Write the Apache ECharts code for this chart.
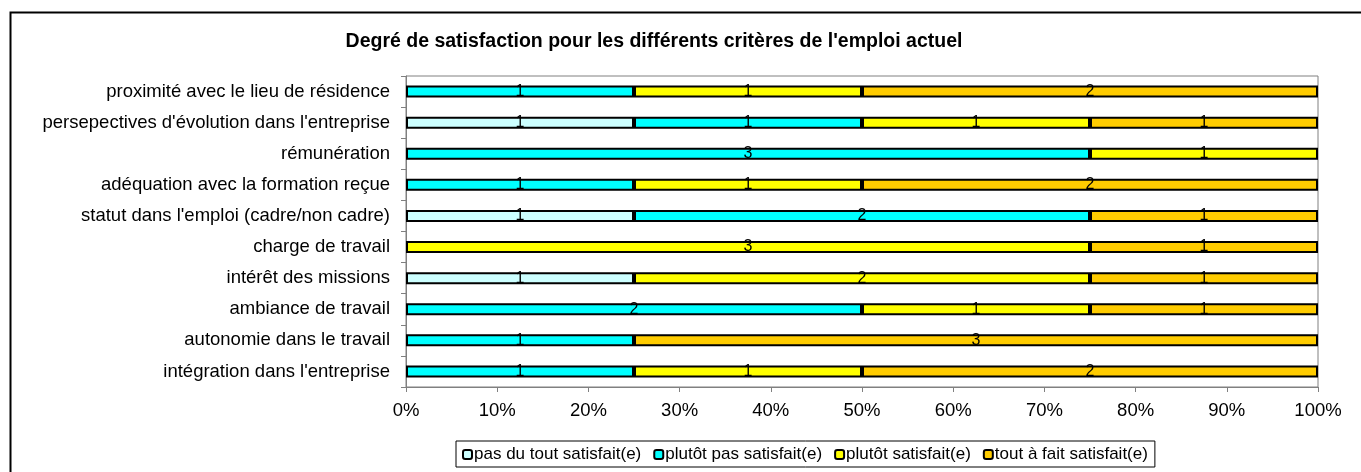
<!DOCTYPE html>
<html>
<head>
<meta charset="utf-8">
<script src="https://cdn.jsdelivr.net/npm/echarts@6/dist/echarts.min.js"></script>
<style>
  html, body { margin: 0; padding: 0; background: #fff; }
  #chart { width: 1361px; height: 472px; }
</style>
</head>
<body>
<div id="chart"></div>
<script>
// Criteria, listed bottom to top as on the category axis
const categories = [
  "intégration dans l'entreprise",
  "autonomie dans le travail",
  "ambiance de travail",
  "intérêt des missions",
  "charge de travail",
  "statut dans l'emploi (cadre/non cadre)",
  "adéquation avec la formation reçue",
  "rémunération",
  "persepectives d'évolution dans l'entreprise",
  "proximité avec le lieu de résidence"
];

const seriesNames = [
  "pas du tout satisfait(e)",
  "plutôt pas satisfait(e)",
  "plutôt satisfait(e)",
  "tout à fait satisfait(e)"
];

// Number of answers per criterion
const pasDuTout      = [0, 0, 0, 1, 0, 1, 0, 0, 1, 0];
const plutotPas      = [1, 1, 2, 0, 0, 2, 1, 3, 1, 1];
const plutotSatisf   = [1, 0, 1, 2, 3, 0, 1, 1, 1, 1];
const toutAFait      = [2, 3, 1, 1, 1, 1, 2, 0, 1, 2];

const tickLabels = ["0%", "10%", "20%", "30%", "40%", "50%", "60%", "70%", "80%", "90%", "100%"];

const colors = ["#CCFFFF", "#00FFFF", "#FFFF00", "#FFCC00"];
const counts = [pasDuTout, plutotPas, plutotSatisf, toutAFait];
const FONT = 'Liberation Sans, Arial, sans-serif';

const totals = categories.map((_, i) => counts.reduce((s, arr) => s + arr[i], 0));

const series = counts.map((arr, k) => ({
  name: seriesNames[k],
  type: 'bar',
  stack: 'total',
  barWidth: 12,
  data: arr.map((v, i) => ({ value: v === 0 ? null : v / totals[i] * 100, raw: v })),
  itemStyle: { color: colors[k], borderColor: '#000', borderWidth: 2 },
  label: {
    show: true,
    position: 'inside',
    color: '#000',
    fontFamily: FONT,
    fontSize: 16,
    formatter: p => (p.data && p.data.raw) ? String(p.data.raw) : ''
  },
  emphasis: { disabled: true }
}));

const chart = echarts.init(document.getElementById('chart'), null, { renderer: 'canvas' });
chart.setOption({
  animation: false,
  backgroundColor: '#fff',
  textStyle: { fontFamily: FONT },
  title: {
    text: "Degré de satisfaction pour les différents critères de l'emploi actuel",
    left: 649,
    top: 27,
    textAlign: 'center',
    textStyle: { fontSize: 19.5, fontWeight: 'bold', color: '#000', fontFamily: FONT }
  },
  graphic: [
    { type: 'rect', left: 8, top: 10, shape: { width: 1400, height: 500 },
      style: { fill: 'none', stroke: '#000', lineWidth: 2 }, z: -1 }
  ],
  legend: {
    data: seriesNames,
    left: 456,
    top: 441,
    orient: 'horizontal',
    itemWidth: 9,
    itemHeight: 9,
    itemGap: 12,
    padding: [5, 7, 4, 6],
    borderColor: '#000',
    borderWidth: 1,
    selectedMode: false,
    textStyle: { fontSize: 17, color: '#000', fontFamily: FONT, padding: [0, 0, 0, -3] },
    itemStyle: { borderColor: '#000', borderWidth: 2 }
  },
  grid: {
    left: 406, right: 43, top: 76, bottom: 85,
    show: true, borderColor: '#808080', borderWidth: 1, backgroundColor: 'transparent'
  },
  xAxis: {
    type: 'value',
    min: 0, max: 100, interval: 10,
    axisLine: { show: true, lineStyle: { color: '#808080', width: 1 } },
    axisTick: { show: true, length: 5, lineStyle: { color: '#808080' } },
    splitLine: { show: false },
    axisLabel: {
      color: '#000', fontSize: 18.5, fontFamily: FONT, margin: 14,
      formatter: v => tickLabels[Math.round(v / 10)]
    }
  },
  yAxis: {
    type: 'category',
    data: categories,
    axisLine: { show: true, lineStyle: { color: '#808080', width: 1 } },
    axisTick: { show: true, length: 5, alignWithLabel: false, lineStyle: { color: '#808080' } },
    axisLabel: { color: '#000', fontSize: 18.5, fontFamily: FONT, margin: 16 },
    splitLine: { show: false }
  },
  series: series
});
</script>
</body>
</html>
